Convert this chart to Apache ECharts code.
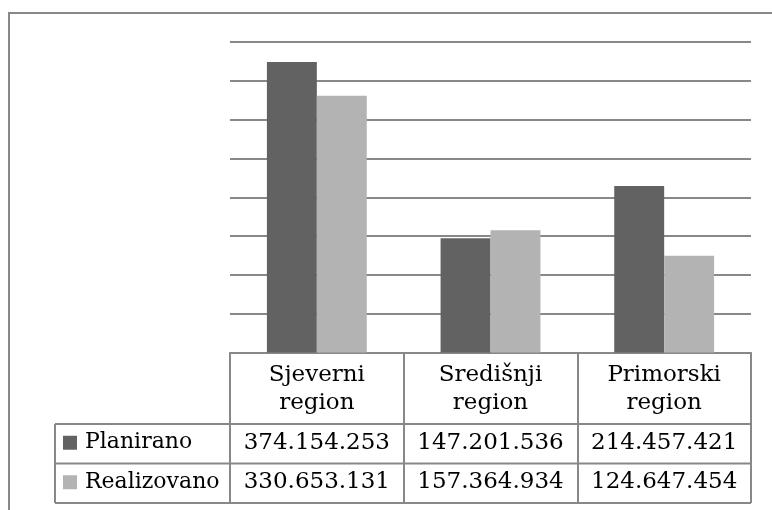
<!DOCTYPE html>
<html>
<head>
<meta charset="utf-8">
<script src="https://cdn.jsdelivr.net/npm/echarts@6/dist/echarts.min.js"></script>
<style>
html,body{margin:0;padding:0;background:#fff;}
#c{width:772px;height:510px;}
</style>
</head>
<body>
<div id="c"></div>
<script>
const categories = ['Sjeverni region', 'Središnji region', 'Primorski region'];
const seriesNames = ['Planirano', 'Realizovano'];
const planirano = [374154253, 147201536, 214457421];
const realizovano = [330653131, 157364934, 124647454];
const seriesColors = ['#626262', '#b3b3b3'];
const yMin = 0, yMax = 400000000, yInterval = 50000000;

const FONT = 'DejaVu Serif';
const LINE = '#888888';

function fmt(v) {
  return String(v).replace(/\B(?=(\d{3})+(?!\d))/g, '.');
}

const chart = echarts.init(document.getElementById('c'), null, {renderer: 'canvas'});
const gridLeft = 230, gridRight = 21, gridTop = 42, gridBottom = 157.5;
chart.setOption({
  animation: false,
  backgroundColor: '#fff',
  grid: {left: gridLeft, right: gridRight, top: gridTop, bottom: gridBottom, containLabel: false},
  xAxis: {
    type: 'category',
    data: categories,
    axisLine: {show: true, lineStyle: {color: LINE, width: 2}},
    axisTick: {show: true, alignWithLabel: false, interval: 0, length: 150.5, lineStyle: {color: LINE, width: 2}},
    axisLabel: {
      interval: 0,
      margin: 9,
      fontFamily: FONT, fontSize: 23, color: '#000', lineHeight: 28,
      formatter: v => v.replace(' ', '\n')
    },
    splitLine: {show: false}
  },
  yAxis: {
    type: 'value', min: yMin, max: yMax, interval: yInterval,
    axisLine: {show: false}, axisTick: {show: false}, axisLabel: {show: false},
    splitLine: {show: true, lineStyle: {color: LINE, width: 2}}
  },
  series: [
    {name: seriesNames[0], type: 'bar', data: planirano, barGap: '0%', barCategoryGap: '42.5%', itemStyle: {color: seriesColors[0]}},
    {name: seriesNames[1], type: 'bar', data: realizovano, barGap: '0%', barCategoryGap: '42.5%', itemStyle: {color: seriesColors[1]}}
  ]
});

// table below the axis
const rowTops = [424, 463.5];
const rowH = 39.5;
const tableBottom = rowTops[1] + rowH;
const tableRight = chart.getWidth() - gridRight;
const legendLeft = 55;
const rows = [planirano, realizovano];
const g = [];
// outer chart border (clipped at right/bottom)
g.push({type: 'polyline', shape: {points: [[9, 510], [9, 13], [772, 13]]}, style: {stroke: LINE, lineWidth: 2, fill: null}});
// horizontal table lines
[rowTops[0], rowTops[1], tableBottom].forEach(y => {
  g.push({type: 'line', shape: {x1: legendLeft, y1: y, x2: tableRight, y2: y}, style: {stroke: LINE, lineWidth: 2}});
});
g.push({type: 'line', shape: {x1: legendLeft, y1: rowTops[0], x2: legendLeft, y2: tableBottom}, style: {stroke: LINE, lineWidth: 2}});
rows.forEach((vals, r) => {
  const cy = rowTops[r] + rowH / 2 - 1;
  g.push({type: 'rect', shape: {x: 63, y: cy - 7, width: 14, height: 14}, style: {fill: seriesColors[r]}});
  g.push({type: 'text', x: 85, y: cy, style: {text: seriesNames[r], font: '22px "' + FONT + '"', fill: '#000', textVerticalAlign: 'middle', verticalAlign: 'middle'}});
  vals.forEach((v, i) => {
    const cx = chart.convertToPixel({xAxisIndex: 0}, categories[i]);
    g.push({type: 'text', x: cx, y: cy, style: {text: fmt(v), font: '23px "' + FONT + '"', fill: '#000', align: 'center', textAlign: 'center', verticalAlign: 'middle', textVerticalAlign: 'middle'}});
  });
});
chart.setOption({graphic: g});
</script>
</body>
</html>
